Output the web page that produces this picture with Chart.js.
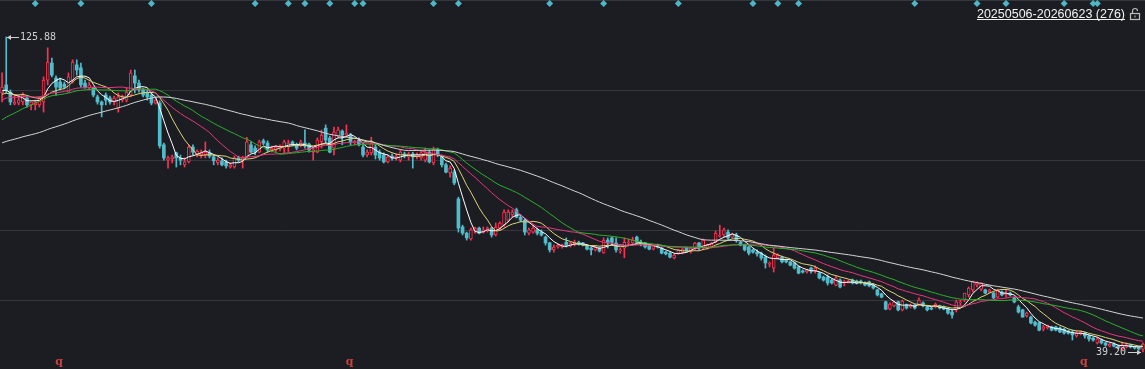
<!DOCTYPE html>
<html>
<head>
<meta charset="utf-8">
<title>K线 20250506-20260623</title>
<script src="https://cdn.jsdelivr.net/npm/chart.js@4/dist/chart.umd.min.js"></script>
<style>
  html, body { margin: 0; padding: 0; background: #1b1d22; overflow: hidden; }
</style>
</head>
<body>
<canvas id="kChart" width="1145" height="369"></canvas>
<script>
const rangeLabel = '20250506-20260623 (276)';

// one row per trading day: [open, high, low, close]
const kline = [
  [110.5, 116.0, 108.0, 112.1], [112.7, 125.88, 110.5, 111.3], [110.7, 111.3, 107.2, 108.0], [107.4, 109.9, 107.2, 108.0], [107.7, 109.9, 107.2, 108.5],
  [108.0, 110.5, 107.2, 109.9], [109.1, 109.4, 106.6, 107.2], [107.2, 108.0, 105.8, 108.0], [107.2, 108.5, 105.8, 108.0], [107.2, 109.4, 106.6, 109.1],
  [108.0, 114.9, 105.2, 114.0], [114.0, 122.9, 112.7, 119.0], [118.7, 120.1, 114.9, 115.4], [114.6, 115.2, 109.9, 112.1], [113.5, 114.6, 111.3, 111.8],
  [112.9, 113.5, 111.6, 112.1], [110.7, 116.0, 110.7, 114.9], [114.0, 119.6, 113.2, 119.0], [118.2, 119.6, 115.4, 116.8], [117.4, 118.7, 112.1, 112.7],
  [113.2, 114.0, 111.8, 112.1], [111.8, 113.5, 111.3, 112.7], [111.8, 112.1, 109.4, 109.9], [109.4, 109.9, 107.4, 108.0], [108.0, 108.3, 103.9, 107.2],
  [109.9, 110.5, 107.2, 108.5], [109.1, 109.6, 107.4, 108.0], [108.0, 109.6, 107.2, 109.1], [106.3, 110.5, 105.2, 109.4], [108.5, 109.9, 108.0, 109.4],
  [108.5, 111.8, 108.0, 110.7], [109.9, 116.8, 109.4, 116.0], [115.2, 116.8, 110.5, 113.2], [113.2, 114.0, 110.7, 111.3], [111.3, 111.8, 109.4, 109.9],
  [110.5, 111.3, 108.5, 109.4], [109.9, 110.7, 107.2, 107.7], [107.7, 109.1, 107.4, 108.5], [107.7, 108.3, 95.3, 95.9], [96.2, 96.7, 92.0, 92.6],
  [92.0, 93.1, 89.8, 92.6], [92.3, 93.4, 91.2, 92.9], [94.0, 94.2, 90.1, 92.6], [92.6, 93.4, 90.7, 92.0], [90.7, 92.6, 90.1, 91.5],
  [91.5, 96.2, 91.2, 95.6], [95.6, 96.2, 93.4, 94.2], [93.7, 94.8, 92.9, 94.5], [93.4, 94.8, 92.6, 94.2], [93.4, 97.0, 92.6, 94.2],
  [94.0, 94.8, 92.6, 93.1], [92.9, 93.4, 90.7, 91.8], [91.2, 92.6, 90.7, 92.0], [91.8, 92.6, 90.4, 90.7], [91.5, 92.0, 89.8, 90.4],
  [90.1, 91.2, 89.8, 90.7], [90.1, 93.1, 89.8, 92.6], [92.6, 93.1, 91.5, 92.0], [92.0, 93.1, 89.8, 92.6], [92.9, 98.3, 92.6, 97.0],
  [96.2, 97.0, 94.0, 94.2], [95.3, 95.9, 93.4, 94.2], [94.2, 97.5, 94.0, 97.0], [97.3, 97.8, 96.2, 96.7], [96.7, 97.3, 94.2, 94.8],
  [94.8, 95.9, 94.2, 95.3], [94.8, 95.9, 94.2, 95.6], [95.1, 96.2, 94.5, 95.9], [95.3, 97.5, 94.0, 97.0], [95.6, 97.5, 94.2, 96.7],
  [97.0, 97.3, 95.9, 96.2], [96.2, 96.7, 94.8, 95.3], [96.2, 97.5, 95.6, 97.0], [96.7, 100.3, 95.3, 95.9], [96.4, 96.7, 94.2, 94.8],
  [94.2, 95.6, 92.0, 94.8], [94.2, 98.1, 94.0, 97.5], [97.0, 100.3, 95.3, 98.9], [100.8, 101.7, 96.7, 97.5], [98.1, 98.6, 94.0, 94.2],
  [95.3, 101.1, 93.4, 99.7], [98.6, 101.1, 98.1, 100.3], [100.0, 100.3, 96.2, 98.9], [98.9, 101.7, 98.3, 99.4], [98.9, 99.4, 96.2, 97.0],
  [96.7, 97.5, 96.2, 97.0], [97.5, 98.1, 95.9, 96.2], [95.6, 96.2, 92.9, 93.4], [93.4, 94.8, 92.9, 94.2], [94.0, 98.3, 93.4, 96.7],
  [95.6, 96.2, 92.3, 93.4], [94.2, 94.8, 92.0, 92.6], [93.4, 94.0, 91.2, 91.5], [91.5, 93.4, 91.2, 92.9], [93.1, 93.7, 92.0, 92.6],
  [92.6, 93.7, 92.0, 93.1], [92.0, 94.8, 91.5, 94.2], [93.7, 94.2, 92.6, 93.1], [92.9, 94.2, 92.0, 93.7], [93.7, 94.2, 89.8, 92.9],
  [92.9, 94.0, 92.3, 93.4], [92.6, 94.5, 92.0, 94.0], [92.0, 95.3, 91.5, 94.2], [94.2, 94.8, 91.2, 91.5], [91.2, 95.6, 90.7, 94.8],
  [94.8, 95.3, 92.9, 93.4], [92.9, 93.4, 90.1, 90.7], [90.7, 91.2, 88.5, 88.7], [88.5, 90.4, 87.3, 89.8], [88.7, 89.3, 85.2, 85.7],
  [81.3, 81.8, 72.2, 73.3], [73.6, 74.1, 71.4, 71.9], [71.9, 72.2, 70.0, 70.6], [70.3, 73.3, 70.0, 72.8], [72.5, 73.6, 71.9, 73.3],
  [73.3, 73.6, 71.7, 71.9], [72.2, 73.6, 71.9, 72.8], [72.5, 73.6, 72.2, 73.3], [73.3, 73.6, 70.8, 71.4], [71.4, 74.7, 71.1, 73.6],
  [73.3, 75.0, 72.8, 74.7], [74.1, 78.3, 73.6, 77.7], [75.5, 78.3, 75.0, 77.7], [76.9, 78.3, 76.3, 77.7], [78.3, 78.8, 76.1, 76.3],
  [76.3, 76.9, 75.0, 75.5], [75.5, 75.8, 71.4, 72.2], [71.9, 73.3, 71.4, 72.8], [72.2, 74.1, 71.9, 73.3], [72.8, 73.3, 71.4, 71.9],
  [72.2, 72.8, 71.1, 71.4], [70.8, 71.1, 68.6, 69.2], [69.2, 69.4, 66.7, 67.3], [67.3, 68.6, 66.7, 68.1], [68.1, 68.9, 67.8, 68.6],
  [68.1, 68.9, 67.8, 68.6], [69.4, 70.6, 68.1, 68.6], [68.4, 69.4, 68.1, 69.2], [68.9, 70.0, 68.4, 69.4], [69.4, 69.7, 68.6, 68.9],
  [69.2, 69.4, 68.4, 68.6], [68.4, 68.6, 67.3, 67.5], [67.8, 68.1, 65.9, 67.3], [67.3, 68.4, 67.0, 68.1], [67.8, 68.1, 66.7, 67.0],
  [66.4, 70.6, 66.4, 70.0], [70.0, 70.6, 67.8, 69.2], [70.6, 70.8, 68.6, 69.4], [69.2, 70.6, 66.7, 67.3], [67.0, 67.8, 66.4, 67.3],
  [67.8, 70.6, 65.1, 69.4], [69.2, 70.3, 68.6, 69.4], [69.2, 70.8, 68.9, 70.0], [70.8, 71.1, 69.2, 69.4], [69.4, 70.0, 68.4, 68.9],
  [69.2, 69.4, 67.8, 68.1], [68.4, 68.6, 67.3, 67.5], [67.5, 68.6, 67.3, 68.4], [68.6, 68.9, 67.8, 68.1], [67.8, 68.1, 66.2, 66.4],
  [66.7, 67.0, 65.9, 66.2], [66.4, 66.7, 65.1, 65.3], [65.1, 66.2, 64.8, 65.9], [66.4, 67.5, 66.2, 67.3], [66.7, 67.8, 66.2, 67.5],
  [67.8, 68.1, 66.7, 67.0], [67.0, 68.1, 66.4, 67.8], [67.8, 69.4, 67.3, 69.2], [69.2, 69.4, 67.3, 67.8], [67.8, 70.3, 67.3, 70.0],
  [67.8, 68.9, 67.5, 68.6], [68.1, 69.4, 67.8, 69.2], [69.4, 72.5, 69.2, 71.9], [71.1, 74.1, 70.8, 71.4], [71.4, 73.3, 70.8, 72.8],
  [72.2, 72.8, 70.0, 70.6], [70.8, 71.9, 70.6, 71.7], [71.4, 71.9, 69.4, 70.0], [69.4, 69.7, 68.4, 68.6], [68.6, 68.9, 67.0, 67.3],
  [68.1, 68.4, 65.9, 66.4], [67.3, 67.5, 66.4, 66.7], [66.7, 67.3, 65.6, 66.2], [66.4, 66.7, 64.5, 65.1], [65.3, 65.9, 62.3, 63.7],
  [63.4, 64.0, 62.6, 63.7], [62.3, 67.8, 61.2, 65.9], [65.1, 66.2, 64.8, 65.9], [65.3, 65.6, 63.7, 64.0], [64.5, 64.8, 63.7, 64.0],
  [64.0, 64.2, 62.9, 63.1], [63.7, 64.0, 62.0, 62.3], [62.6, 62.9, 60.7, 60.9], [61.5, 61.8, 60.9, 61.2], [61.2, 62.0, 60.9, 61.8],
  [62.3, 62.6, 60.9, 61.5], [61.5, 62.9, 60.9, 62.3], [60.9, 61.2, 59.3, 59.6], [59.8, 60.1, 58.7, 59.0], [59.8, 60.4, 57.6, 58.2],
  [59.0, 59.3, 57.9, 58.2], [57.6, 60.1, 57.4, 59.6], [59.0, 59.3, 56.8, 57.1], [58.2, 59.0, 57.4, 58.5], [58.2, 59.0, 58.2, 58.7],
  [59.0, 59.3, 57.9, 58.2], [58.7, 59.0, 57.9, 58.2], [58.7, 59.0, 57.9, 58.2], [58.2, 58.5, 57.4, 57.6], [58.5, 58.7, 57.1, 57.4],
  [57.6, 57.9, 56.5, 56.8], [56.3, 56.5, 54.6, 54.9], [55.2, 55.4, 54.1, 54.3], [53.0, 53.2, 50.8, 51.0], [51.0, 52.7, 50.8, 52.4],
  [51.9, 53.2, 51.6, 53.0], [53.0, 53.2, 50.5, 50.8], [50.8, 53.5, 50.5, 53.2], [52.1, 52.4, 51.0, 51.3], [51.6, 52.4, 51.3, 52.1],
  [52.1, 52.4, 51.0, 51.3], [52.1, 54.1, 51.9, 53.5], [52.7, 53.0, 51.6, 51.9], [51.6, 51.9, 50.5, 50.8], [51.3, 51.6, 50.8, 51.0],
  [51.6, 52.7, 51.3, 52.4], [51.9, 52.1, 51.0, 51.3], [51.6, 51.9, 50.8, 51.0], [51.0, 51.3, 49.6, 49.9], [50.2, 50.8, 48.5, 49.4],
  [51.0, 53.5, 50.2, 53.0], [52.7, 53.5, 52.1, 53.0], [53.5, 55.4, 53.0, 55.4], [54.9, 57.1, 54.3, 56.8], [56.3, 58.7, 55.7, 58.5],
  [57.6, 58.5, 57.1, 58.2], [56.5, 58.2, 56.0, 58.2], [56.3, 56.5, 55.2, 55.4], [55.7, 56.5, 55.4, 56.3], [55.4, 55.7, 53.8, 54.1],
  [54.3, 56.5, 54.1, 56.3], [55.7, 56.0, 54.6, 54.9], [54.9, 56.3, 54.3, 55.4], [55.4, 55.7, 54.6, 54.9], [54.1, 54.3, 52.7, 53.0],
  [51.6, 52.1, 49.9, 50.2], [50.8, 51.0, 48.8, 48.8], [49.1, 50.2, 48.8, 49.9], [48.8, 49.1, 46.9, 47.2], [47.4, 47.7, 46.3, 46.6],
  [47.2, 47.4, 45.0, 45.2], [45.5, 46.6, 45.0, 46.1], [45.8, 46.6, 45.5, 46.6], [46.1, 46.3, 45.0, 45.2], [46.1, 46.3, 45.0, 45.2],
  [45.8, 46.1, 44.5, 44.7], [45.5, 45.8, 44.1, 44.4], [45.0, 45.2, 44.1, 44.4], [44.7, 45.2, 42.5, 43.9], [43.6, 45.0, 43.3, 44.4],
  [44.1, 45.0, 43.9, 44.7], [44.4, 44.7, 43.0, 43.6], [43.6, 43.9, 42.2, 42.8], [43.0, 43.3, 42.2, 42.5], [41.7, 43.3, 41.4, 42.8],
  [42.5, 42.8, 41.4, 41.7], [41.7, 41.9, 40.8, 41.1], [40.8, 41.7, 40.6, 41.4], [41.4, 41.7, 40.6, 40.8], [40.8, 41.1, 40.0, 40.3],
  [40.0, 41.9, 39.7, 41.1], [40.6, 41.7, 40.3, 41.1], [41.1, 41.4, 40.3, 40.6], [40.6, 40.8, 40.0, 40.3], [40.6, 40.8, 39.7, 40.0],
  [40.0, 41.7, 39.20, 41.4]
];

// closes of the 59 days before the window, so MA60 etc. start where they do
const priorCloses = [
  88.5, 89.2, 90.1, 89.6, 88.9, 90.4, 91.2, 90.8, 89.7, 90.3,
  91.5, 92.0, 91.1, 90.2, 89.5, 90.6, 91.8, 92.3, 91.0, 89.8,
  90.5, 91.3, 90.1, 89.4, 90.0, 90.9, 91.6, 90.7, 89.9, 90.2,
  89.5, 90.8, 91.7, 90.2, 91.4, 92.6, 93.5, 92.8, 93.9, 95.1,
  101.5, 104.8, 106.2, 107.9, 106.5, 108.3, 109.4, 108.1, 107.6, 109.7,
  108.6, 109.8, 110.5, 108.9, 108.2, 110.3, 111.6, 110.9, 110.4
];

const maPeriods = [5, 10, 20, 30, 60];
const maColors = ['#ffffff', '#dcd477', '#e8367f', '#2bb02b', '#d4d4d4'];

// event markers (day index)
const signalDays = [8, 19, 36, 61, 69, 73, 79, 85, 87, 104, 110, 132, 145, 163, 181, 187, 192, 220, 235, 242, 256, 263, 264];
const qDays = [14, 84, 261];

// price levels of the horizontal grid lines
const yMin = 34.52;
const yMax = 136.06;
const gridLevels = [136.06, 111.29, 92.03, 72.76, 53.50];

const upColor = '#ff3052';
const downColor = '#52bccb';
const bgColor = '#1b1d22';

const days = kline.map((k, i) => i + 1);
const closes = kline.map(k => k[3]);
const isUp = kline.map(k => k[3] >= k[0]);

function movingAverage(n) {
  let all = priorCloses.concat(closes);
  let off = priorCloses.length;
  return closes.map((c, i) => {
    let s = 0;
    for (let j = i + off - n + 1; j <= i + off; j++) s += all[j];
    return s / n;
  });
}

let maSets = maPeriods.map((n, idx) => ({
  type: 'line',
  label: 'MA' + n,
  data: movingAverage(n),
  borderColor: maColors[idx],
  borderWidth: 1,
  pointRadius: 0,
  tension: 0,
  fill: false,
  order: 5 - idx
}));

const overlay = {
  id: 'overlay',
  beforeDraw(chart) {
    let ctx = chart.ctx;
    ctx.save();
    ctx.fillStyle = bgColor;
    ctx.fillRect(0, 0, chart.width, chart.height);
    ctx.restore();
  },
  afterDatasetsDraw(chart) {
    let ctx = chart.ctx;
    let x = chart.scales.x;
    let y = chart.scales.y;
    let area = chart.chartArea;
    ctx.save();

    // highest high and lowest low
    let hi = 0, lo = 0;
    kline.forEach((k, i) => {
      if (k[1] > kline[hi][1]) hi = i;
      if (k[2] < kline[lo][2]) lo = i;
    });
    ctx.strokeStyle = '#d0d0d0';
    ctx.fillStyle = '#d0d0d0';
    ctx.lineWidth = 1;
    ctx.font = '10px "DejaVu Sans Mono"';
    ctx.textBaseline = 'middle';

    let hx = Math.round(x.getPixelForValue(hi)) + 1;
    let hy = Math.round(y.getPixelForValue(kline[hi][1])) + 0.5;
    ctx.beginPath(); ctx.moveTo(hx, hy); ctx.lineTo(hx + 12, hy); ctx.stroke();
    ctx.beginPath(); ctx.moveTo(hx, hy); ctx.lineTo(hx + 4, hy - 2.5); ctx.lineTo(hx + 4, hy + 2.5); ctx.closePath(); ctx.fill();
    ctx.textAlign = 'left';
    ctx.fillText(kline[hi][1].toFixed(2), hx + 13, hy);

    let lx = Math.round(x.getPixelForValue(lo)) - 2;
    let ly = Math.round(y.getPixelForValue(kline[lo][2])) + 0.5;
    ctx.beginPath(); ctx.moveTo(lx - 13, ly); ctx.lineTo(lx, ly); ctx.stroke();
    ctx.beginPath(); ctx.moveTo(lx, ly); ctx.lineTo(lx - 4, ly - 2.5); ctx.lineTo(lx - 4, ly + 2.5); ctx.closePath(); ctx.fill();
    ctx.textAlign = 'right';
    ctx.fillText(kline[lo][2].toFixed(2), lx - 15, ly);

    // diamonds along the top
    ctx.fillStyle = '#4db7c6';
    signalDays.forEach(d => {
      let px = x.getPixelForValue(d);
      let py = area.top + 3.5;
      ctx.beginPath();
      ctx.moveTo(px, py - 3.5); ctx.lineTo(px + 3.5, py); ctx.lineTo(px, py + 3.5); ctx.lineTo(px - 3.5, py);
      ctx.closePath(); ctx.fill();
    });

    // q marks along the bottom
    ctx.fillStyle = '#c8423e';
    ctx.font = 'bold 11px "DejaVu Serif"';
    ctx.textAlign = 'center';
    ctx.textBaseline = 'alphabetic';
    qDays.forEach(d => {
      ctx.fillText('q', x.getPixelForValue(d) - 1, area.bottom - 4);
    });

    // range label, underlined, with a lock
    ctx.font = '12.5px "Liberation Sans"';
    ctx.fillStyle = '#f2f2f2';
    ctx.textAlign = 'right';
    ctx.fillText(rangeLabel, 1125, 17.5);
    let w = ctx.measureText(rangeLabel).width;
    ctx.strokeStyle = '#f2f2f2';
    ctx.beginPath(); ctx.moveTo(1125 - w, 19.5); ctx.lineTo(1125, 19.5); ctx.stroke();

    ctx.strokeStyle = '#bdbdbd';
    ctx.lineWidth = 1.2;
    ctx.strokeRect(1130.5, 13.5, 9, 6);
    ctx.beginPath();
    ctx.moveTo(1132.5, 13.5);
    ctx.lineTo(1132.5, 11);
    ctx.arc(1135, 11, 2.5, Math.PI, 0);
    ctx.stroke();
    ctx.fillStyle = '#bdbdbd';
    ctx.fillRect(1134.5, 15.5, 1, 2);
    ctx.restore();
  }
};

new Chart(document.getElementById('kChart'), {
  type: 'bar',
  data: {
    labels: days,
    datasets: [
      {
        label: 'wick',
        data: kline.map(k => [k[2], k[1]]),
        backgroundColor: isUp.map(u => (u ? upColor : downColor)),
        barThickness: 1,
        grouped: false,
        order: 20
      },
      {
        label: 'body',
        data: kline.map(k => [k[0], k[3]]),
        backgroundColor: isUp.map(u => (u ? bgColor : downColor)),
        borderColor: isUp.map(u => (u ? upColor : downColor)),
        borderWidth: isUp.map(u => (u ? 1 : 0)),
        borderSkipped: false,
        barThickness: 3,
        minBarLength: 1,
        grouped: false,
        order: 10
      },
      ...maSets
    ]
  },
  options: {
    responsive: false,
    animation: false,
    layout: { padding: 0 },
    plugins: { legend: { display: false }, tooltip: { enabled: false } },
    scales: {
      x: { type: 'category', display: false, offset: true, grid: { display: false } },
      y: {
        display: true,
        position: 'left',
        min: yMin,
        max: yMax,
        afterBuildTicks: s => { s.ticks = gridLevels.map(v => ({ value: v })); },
        afterFit: s => { s.width = 0; },
        ticks: { display: false },
        grid: { color: '#35373c', drawTicks: false },
        border: { display: false }
      }
    }
  },
  plugins: [overlay]
});
</script>
</body>
</html>
